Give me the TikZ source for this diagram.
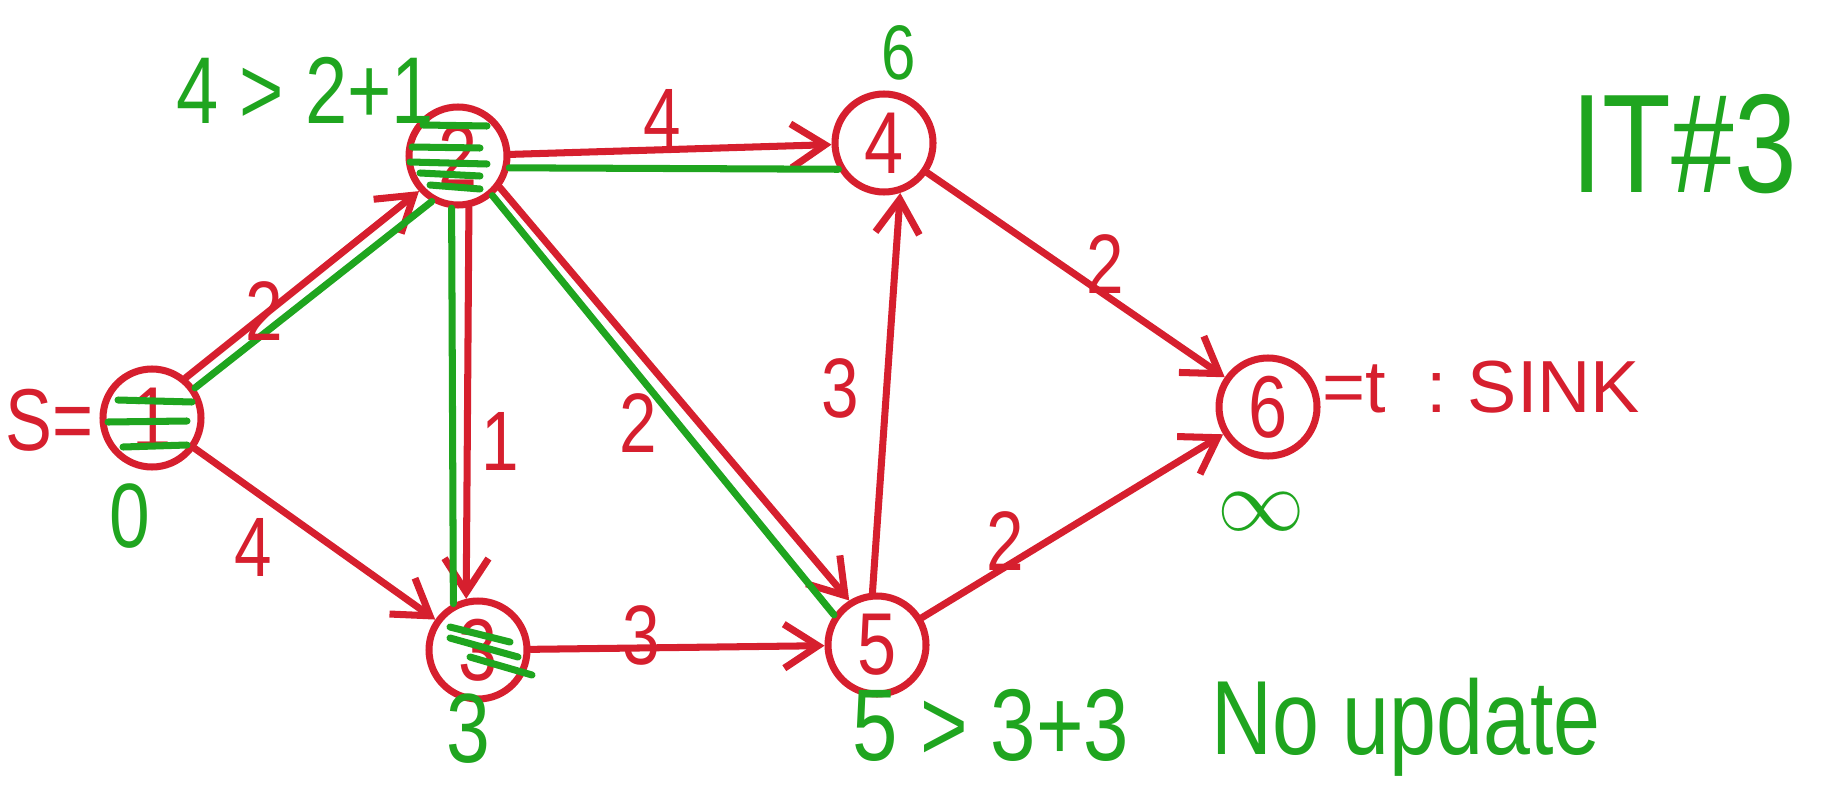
\documentclass[tikz,border=0pt]{standalone}
\usepackage{fontspec}
\setsansfont{Liberation Sans}
\newfontfamily\handfont{Liberation Sans}[FakeStretch=0.8]
\usepackage{tikz}
\usetikzlibrary{arrows.meta,positioning}
\definecolor{InkRed}{HTML}{D61F2E}
\definecolor{InkGreen}{HTML}{1FA51F}

\begin{document}
\begin{tikzpicture}[
    vtx/.style={circle, draw=InkRed, line width=2pt, minimum size=0.98cm, inner sep=0pt, text=InkRed, font=\handfont\fontsize{25}{27}\selectfont},
    wlab/.style={text=InkRed, inner sep=1pt, font=\handfont\fontsize{24}{26}\selectfont},
    note/.style={text=InkGreen, inner sep=0pt, font=\handfont\fontsize{29}{32}\selectfont},
    arr/.style={-{Straight Barb[length=3.4mm, width=4.4mm]}, draw=InkRed, line width=2pt, line cap=round},
    tree/.style={draw=InkGreen, line width=2pt, line cap=round},
    hatch/.style={draw=InkGreen, line width=2pt, line cap=round}
  ]
    \useasboundingbox (0,0) rectangle (18.43,8.02);

    \node[vtx] (n1) at (1.52, 3.84) {1};
    \node[vtx] (n2) at (4.58, 6.46) {2};
    \node[vtx] (n3) at (4.78, 1.52) {3};
    \node[vtx] (n4) at (8.84, 6.59) {4};
    \node[vtx] (n5) at (8.77, 1.57) {5};
    \node[vtx] (n6) at (12.68, 3.95) {6};

    \draw[arr] (n1.50) -- (n2.222);
    \draw[arr] (n1) -- (n3);
    \draw[arr] (n2) -- (n4);
    \draw[arr] (n2.-78) -- (n3.103);
    \draw[arr] (n2.-37) -- (n5.122);
    \draw[arr] (n3) -- (n5);
    \draw[arr] (n5.95) -- (n4.-72);
    \draw[arr] (n4) -- (n6);
    \draw[arr] (n5) -- (n6);

    \draw[tree] (n1.35) -- (n2.240);
    \draw[tree] (n2.-13) -- (n4.210);
    \draw[tree] (n2.-97) -- (n3.118);
    \draw[tree] (n2.-49) -- (n5.145);

    \draw[hatch, shift={(n1)}] (-0.34,0.18) -- (0.40,0.16) (-0.44,-0.04) -- (0.35,-0.03) (-0.29,-0.29) -- (0.35,-0.27);
    \draw[hatch, shift={(n2)}] (-0.35,0.31) -- (0.29,0.30) (-0.46,0.09) -- (0.22,0.08) (-0.48,-0.06) -- (0.29,-0.08)
      (-0.38,-0.17) -- (0.22,-0.20) (-0.28,-0.29) -- (0.22,-0.33);
    \draw[hatch, shift={(n3)}] (-0.28,0.23) -- (0.32,0.08) (-0.28,0.12) -- (0.40,-0.07) (-0.08,-0.07) -- (0.54,-0.25);

    \node[wlab] (w12) at (2.64, 4.91) {2};
    \node[wlab] (w13) at (2.53, 2.55) {4};
    \node[wlab] (w24) at (6.62, 6.84) {4};
    \node[wlab] (w23) at (5.00, 3.61) {1};
    \node[wlab] (w25) at (6.38, 3.79) {2};
    \node[wlab] (w35) at (6.41, 1.67) {3};
    \node[wlab] (w54) at (8.40, 4.14) {3};
    \node[wlab] (w46) at (11.05, 5.38) {2};
    \node[wlab] (w56) at (10.05, 2.61) {2};

    \node[wlab, anchor=base east, font=\handfont\fontsize{25}{27}\selectfont] (src) at (0.98, 3.52) {S=};
    \node[wlab, anchor=base west, font=\sffamily\fontsize{21}{23}\selectfont] (sink) at (13.18, 3.90) {=t\ \ :\ SINK};

    \node[note, font=\handfont\fontsize{26}{28}\selectfont] (d1) at (1.30, 2.86) {0};
    \node[note, anchor=base west, font=\handfont\fontsize{27}{29}\selectfont] (d2) at (1.76, 6.78) {4 > 2+1};
    \node[note, font=\handfont\fontsize{28}{30}\selectfont] (d3) at (4.68, 0.73) {3};
    \node[note, font=\handfont\fontsize{22}{24}\selectfont] (d4) at (8.99, 7.49) {6};
    \node[note, anchor=base west] (d5) at (8.52, 0.42) {5 > 3+3};
    \node[note, font=\fontsize{26}{28}\selectfont] (d6) at (12.61, 2.90) {$\infty$};
    \node[note, anchor=base west, font=\handfont\fontsize{30}{32}\selectfont] (upd) at (12.11, 0.48) {No update};
    \node[note, font=\handfont\fontsize{40}{42}\selectfont] (iter) at (16.84, 6.58) {IT\#3};
  \end{tikzpicture}
\end{document}
